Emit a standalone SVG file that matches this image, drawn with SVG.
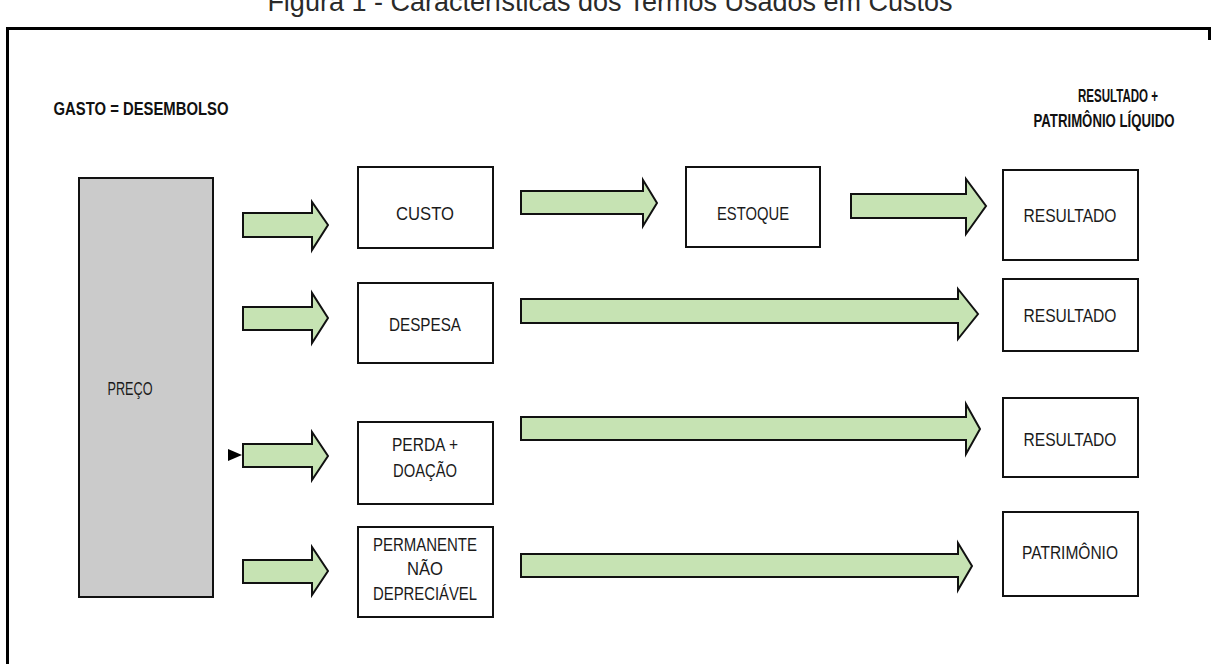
<svg xmlns="http://www.w3.org/2000/svg" width="1211" height="664" viewBox="0 0 1211 664">
<style>
.t{font-family:"Liberation Sans",Arial,sans-serif;font-size:18px;fill:#1a1a1a;text-anchor:middle}
.h{font-family:"Liberation Sans",Arial,sans-serif;font-size:19px;font-weight:bold;fill:#111;text-anchor:middle}
.box{fill:#fff;stroke:#111;stroke-width:2}
.arr{fill:#c6e3b3;stroke:#111;stroke-width:2;stroke-linejoin:miter}
</style>
<rect width="1211" height="664" fill="#fff"/>
<text x="610" y="11" font-family="Liberation Sans, Arial, sans-serif" font-size="27" fill="#2a2a2a" text-anchor="middle">Figura 1 - Características dos Termos Usados em Custos</text>
<g id="frame" fill="none" stroke="#000" stroke-width="3">
<path d="M7.5,664 V28.5 H1211"/>
<path d="M1209.5,28.5 V40"/>
</g>
<g id="headers">
<text class="h" x="141" y="115" textLength="175" lengthAdjust="spacingAndGlyphs">GASTO = DESEMBOLSO</text>
<text class="h" x="1118" y="102" textLength="80" lengthAdjust="spacingAndGlyphs">RESULTADO +</text>
<text class="h" x="1104" y="127" textLength="141" lengthAdjust="spacingAndGlyphs">PATRIMÔNIO LÍQUIDO</text>
</g>
<g id="preco"><rect x="79" y="178" width="134" height="419" fill="#cbcbcb" stroke="#111" stroke-width="2"/><text class="t" x="130" y="395" textLength="45" lengthAdjust="spacingAndGlyphs">PREÇO</text></g>
<g id="custo"><rect class="box" x="358" y="167" width="135" height="81"/><text class="t" x="425" y="220" textLength="58" lengthAdjust="spacingAndGlyphs">CUSTO</text></g>
<g id="estoque"><rect class="box" x="686" y="167" width="134" height="80"/><text class="t" x="753" y="220" textLength="72" lengthAdjust="spacingAndGlyphs">ESTOQUE</text></g>
<g id="resultado1"><rect class="box" x="1003" y="170" width="135" height="90"/><text class="t" x="1070" y="222" textLength="93" lengthAdjust="spacingAndGlyphs">RESULTADO</text></g>
<g id="despesa"><rect class="box" x="358" y="283" width="135" height="80"/><text class="t" x="425" y="331" textLength="72" lengthAdjust="spacingAndGlyphs">DESPESA</text></g>
<g id="resultado2"><rect class="box" x="1003" y="279" width="135" height="72"/><text class="t" x="1070" y="322" textLength="93" lengthAdjust="spacingAndGlyphs">RESULTADO</text></g>
<g id="perda"><rect class="box" x="358" y="422" width="135" height="82"/><text class="t" x="425" y="451" textLength="66" lengthAdjust="spacingAndGlyphs">PERDA +</text><text class="t" x="425" y="477" textLength="64" lengthAdjust="spacingAndGlyphs">DOAÇÃO</text></g>
<g id="resultado3"><rect class="box" x="1003" y="398" width="135" height="79"/><text class="t" x="1070" y="446" textLength="93" lengthAdjust="spacingAndGlyphs">RESULTADO</text></g>
<g id="permanente"><rect class="box" x="358" y="527" width="135" height="90"/><text class="t" x="425" y="551" textLength="104" lengthAdjust="spacingAndGlyphs">PERMANENTE</text><text class="t" x="425" y="575" textLength="36" lengthAdjust="spacingAndGlyphs">NÃO</text><text class="t" x="425" y="600" textLength="104" lengthAdjust="spacingAndGlyphs">DEPRECIÁVEL</text></g>
<g id="patrimonio"><rect class="box" x="1003" y="512" width="135" height="84"/><text class="t" x="1070" y="559" textLength="96" lengthAdjust="spacingAndGlyphs">PATRIMÔNIO</text></g>
<g id="connectors">
<polygon class="arr" points="243,213 312,213 312,202 328,225 312,250 312,237 243,237"/>
<polygon class="arr" points="521,191 643,191 643,180 657,203 643,226 643,214 521,214"/>
<polygon class="arr" points="851,194 966,194 966,179 986,206 966,234 966,218 851,218"/>
<polygon class="arr" points="243,307 312,307 312,293 328,318 312,343 312,330 243,330"/>
<polygon class="arr" points="521,299 958,299 958,289 978,314 958,339 958,323 521,323"/>
<polygon class="arr" points="243,444 312,444 312,432 328,456 312,480 312,467 243,467"/>
<polygon points="228,449 242,455 228,461" fill="#000"/>
<polygon class="arr" points="521,417 966,417 966,404 980,429 966,454 966,440 521,440"/>
<polygon class="arr" points="243,560 312,560 312,547 328,571 312,595 312,583 243,583"/>
<polygon class="arr" points="521,554 958,554 958,543 972,566 958,590 958,577 521,577"/>
</g>
</svg>
